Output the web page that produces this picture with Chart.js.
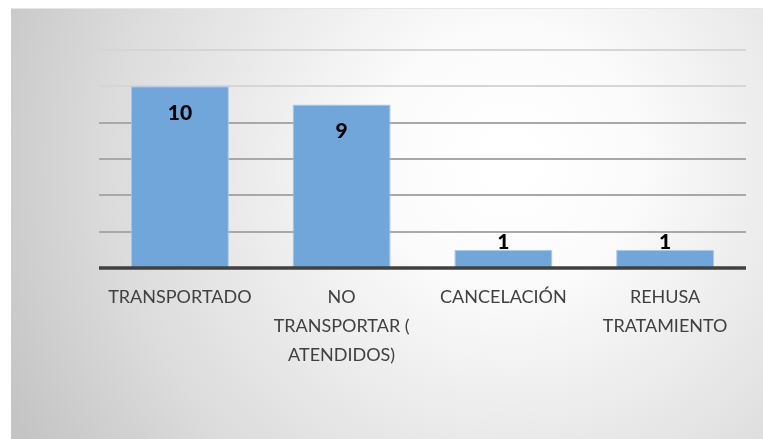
<!DOCTYPE html>
<html>
<head>
<meta charset="utf-8">
<script src="https://cdn.jsdelivr.net/npm/chart.js@4/dist/chart.umd.min.js"></script>
<style>
  html, body { margin: 0; padding: 0; background: #fff; overflow: hidden; }
  canvas { display: block; }
</style>
</head>
<body>
<canvas id="barChart" width="763" height="439"></canvas>
<script>
// Data
const categories = [
    'TRANSPORTADO',
    ['NO', 'TRANSPORTAR (', 'ATENDIDOS)'],
    'CANCELACIÓN',
    ['REHUSA', 'TRATAMIENTO']
];
const counts = [10, 9, 1, 1];
const yMax = 12;
const yStep = 2;

// grey radial backdrop behind the chart
const backdrop = {
    id: 'backdrop',
    beforeDraw(chart) {
        const ctx = chart.ctx;
        ctx.save();
        ctx.fillStyle = '#ffffff';
        ctx.fillRect(0, 0, chart.width, chart.height);
        const g = ctx.createRadialGradient(510, 160, 20, 510, 160, 560);
        g.addColorStop(0, '#ffffff');
        g.addColorStop(0.2, '#fbfbfb');
        g.addColorStop(0.7, '#dcdcdc');
        g.addColorStop(1, '#c4c4c4');
        ctx.fillStyle = g;
        ctx.fillRect(11, 8, chart.width - 11, chart.height - 8);
        ctx.strokeStyle = '#e6e6e6';
        ctx.lineWidth = 1;
        ctx.beginPath();
        ctx.moveTo(11, 8.5);
        ctx.lineTo(chart.width, 8.5);
        ctx.stroke();
        ctx.restore();
    }
};

// value labels: inside the top of tall bars, above short ones
const valueLabels = {
    id: 'valueLabels',
    afterDatasetsDraw(chart) {
        const ctx = chart.ctx;
        const meta = chart.getDatasetMeta(0);
        ctx.save();
        ctx.font = '900 21px Lato';
        ctx.fillStyle = '#000000';
        ctx.textAlign = 'center';
        meta.data.forEach((bar, i) => {
            const h = bar.base - bar.y;
            if (h > 60) {
                ctx.textBaseline = 'middle';
                ctx.fillText(String(counts[i]), bar.x, bar.y + 27);
            } else {
                ctx.textBaseline = 'alphabetic';
                ctx.fillText(String(counts[i]), bar.x, bar.y - 1);
            }
        });
        ctx.restore();
    }
};

// baseline axis line
const baseLine = {
    id: 'baseLine',
    afterDatasetsDraw(chart) {
        const ctx = chart.ctx;
        const a = chart.chartArea;
        const y = chart.scales.y.getPixelForValue(0);
        ctx.save();
        ctx.strokeStyle = '#404040';
        ctx.lineWidth = 3.5;
        ctx.beginPath();
        ctx.moveTo(a.left, y);
        ctx.lineTo(a.right, y);
        ctx.stroke();
        ctx.restore();
    }
};

const ctx = document.getElementById('barChart').getContext('2d');
new Chart(ctx, {
    type: 'bar',
    data: {
        labels: categories,
        datasets: [{
            data: counts,
            backgroundColor: '#70a6da',
            borderColor: '#a9cbec',
            borderWidth: 1,
            barPercentage: 0.606,
            categoryPercentage: 1.0
        }]
    },
    options: {
        responsive: false,
        animation: false,
        devicePixelRatio: 1,
        layout: { padding: { left: 99, right: 17, top: 50, bottom: 0 } },
        plugins: {
            legend: { display: false },
            tooltip: { enabled: false }
        },
        scales: {
            x: {
                grid: { display: false, drawTicks: false },
                border: { display: false },
                ticks: {
                    color: '#404040',
                    font: { family: 'Lato', size: 18, lineHeight: 1.6 },
                    padding: 15,
                    maxRotation: 0,
                    autoSkip: false
                },
                afterFit(s) { s.height = 171; }
            },
            y: {
                min: 0,
                max: yMax,
                ticks: { display: false, stepSize: yStep },
                border: { display: false },
                grid: {
                    drawTicks: false,
                    lineWidth: 2,
                    color: c => (c.tick && c.tick.value >= 10 ? '#d6d6d6' : '#a8a8a8')
                },
                afterFit(s) { s.width = 0; }
            }
        }
    },
    plugins: [backdrop, valueLabels, baseLine]
});
</script>
</body>
</html>
